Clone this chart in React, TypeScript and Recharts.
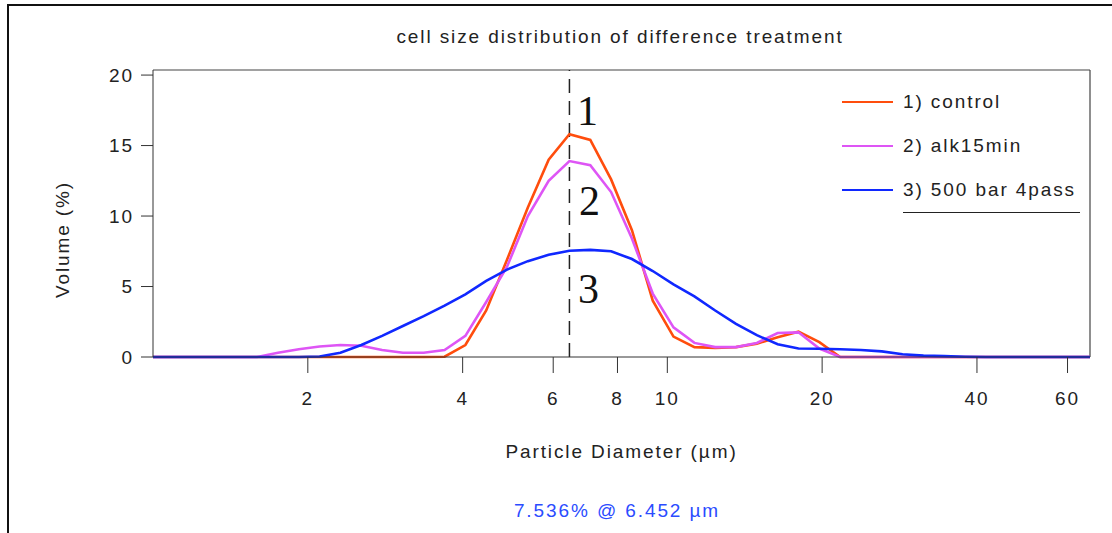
import { LineChart, Line, XAxis, YAxis, ReferenceLine, Legend } from 'recharts';

// channel centres (µm) of the particle sizer
const diameters = [
  1.0, 1.098, 1.205, 1.323, 1.452, 1.594, 1.75, 1.921, 2.108, 2.314,
  2.541, 2.789, 3.061, 3.36, 3.689, 4.049, 4.445, 4.879, 5.356, 5.879,
  6.452, 7.083, 7.775, 8.535, 9.369, 10.28, 11.29, 12.39, 13.6, 14.93,
  16.39, 17.99, 19.75, 21.68, 23.8, 26.12, 28.67, 31.48, 34.55, 37.93,
  41.63, 45.7, 50.17, 55.07, 60.45, 66.35,
];

// volume %
const control = [
  0, 0, 0, 0, 0, 0, 0, 0, 0, 0,
  0, 0, 0, 0, 0.02, 0.85, 3.3, 6.9, 10.6, 14.0,
  15.8, 15.4, 12.6, 9.0, 4.0, 1.45, 0.7, 0.65, 0.7, 0.95,
  1.4, 1.8, 1.05, 0, 0, 0, 0, 0, 0, 0,
  0, 0, 0, 0, 0, 0,
];

const alk15min = [
  0, 0, 0, 0, 0, 0, 0.3, 0.55, 0.75, 0.85,
  0.8, 0.5, 0.3, 0.3, 0.5, 1.5, 3.9, 6.4, 10.0, 12.5,
  13.9, 13.6, 11.7, 8.4, 4.5, 2.1, 1.0, 0.7, 0.7, 1.0,
  1.7, 1.75, 0.6, 0, 0, 0, 0, 0, 0, 0,
  0, 0, 0, 0, 0, 0,
];

const bar500 = [
  0, 0, 0, 0, 0, 0, 0, 0, 0.03, 0.3,
  0.85, 1.5, 2.2, 2.9, 3.65, 4.45, 5.4, 6.2, 6.8, 7.25,
  7.536, 7.6, 7.5, 6.95, 6.1, 5.15, 4.3, 3.3, 2.35, 1.55,
  0.9, 0.6, 0.58, 0.55, 0.5, 0.4, 0.2, 0.1, 0.06, 0.02,
  0, 0, 0, 0, 0, 0,
];

const xTicks = [2, 4, 6, 8, 10, 20, 40, 60];
const yTicks = [0, 5, 10, 15, 20];
const cursorIndex = 20;

const FONT = '"Liberation Sans", Arial, sans-serif';
const SIZE = 19;
const SPACING = 1.9;

const series = [
  { key: 'control', name: '1) control', color: '#ff4d0d' },
  { key: 'alk', name: '2) alk15min', color: '#de55f5' },
  { key: 'bar', name: '3) 500 bar 4pass', color: '#1028ff' },
];

const data = diameters.map((d, i) => ({
  d,
  control: control[i],
  alk: alk15min[i],
  bar: bar500[i],
}));

const xMax = diameters[diameters.length - 1];
const yMax = 20.36;

function LegendBox() {
  return (
    <div style={{ fontFamily: FONT, fontSize: SIZE, letterSpacing: SPACING, color: '#222' }}>
      {series.map((s) => (
        <div key={s.key} style={{ display: 'flex', alignItems: 'center', height: 44 }}>
          <span style={{ width: 51, borderTop: `2.5px solid ${s.color}`, marginRight: 10 }} />
          <span>{s.name}</span>
        </div>
      ))}
      <div style={{ marginLeft: 61, width: 177, borderTop: '1.5px solid #222' }} />
    </div>
  );
}

const tickStyle = { fontSize: SIZE, fill: '#222', fontFamily: FONT, letterSpacing: SPACING };

export default function App() {
  const readout = `${bar500[cursorIndex].toFixed(3)}% @ ${diameters[cursorIndex].toFixed(3)} µm`;

  return (
    <div style={{ position: 'absolute', left: 0, top: 0, width: 1112, height: 533, background: '#fff', overflow: 'hidden' }}>
      <div style={{ position: 'absolute', left: 7, top: 4, right: 0, bottom: 0, borderLeft: '2px solid #111', borderTop: '2px solid #111' }} />
      <div
        style={{
          position: 'absolute', left: 0, width: 1240, top: 26, textAlign: 'center',
          fontFamily: FONT, fontSize: SIZE, letterSpacing: SPACING, color: '#222',
        }}
      >
        cell size distribution of difference treatment
      </div>

      <LineChart width={1112} height={533} data={data} margin={{ top: 70, right: 22, left: 93, bottom: 146 }}>
        <XAxis
          dataKey="d"
          type="number"
          scale="log"
          domain={[1, xMax]}
          ticks={xTicks}
          interval={0}
          allowDataOverflow
          height={30}
          stroke="#333"
          tickSize={16}
          tickMargin={19}
          tick={tickStyle}
          label={(props: any) => {
            const vb = props.viewBox;
            return (
              <text
                x={vb.x + vb.width / 2}
                y={vb.y + vb.height + 64}
                textAnchor="middle"
                dominantBaseline="central"
                style={{ ...tickStyle }}
              >
                Particle Diameter (µm)
              </text>
            );
          }}
        />
        <YAxis
          type="number"
          domain={[0, yMax]}
          ticks={yTicks}
          interval={0}
          width={60}
          stroke="#333"
          tickSize={12}
          tickMargin={7}
          tick={tickStyle}
          label={(props: any) => {
            const vb = props.viewBox;
            const cx = vb.x - 31;
            const cy = vb.y + vb.height / 2 + 26;
            return (
              <text
                x={cx}
                y={cy}
                transform={`rotate(-90 ${cx} ${cy})`}
                textAnchor="middle"
                dominantBaseline="central"
                style={{ ...tickStyle }}
              >
                Volume (%)
              </text>
            );
          }}
        />
        <ReferenceLine y={yMax} stroke="#444" strokeWidth={1.2} />
        <ReferenceLine x={xMax} stroke="#444" strokeWidth={1.2} />
        <ReferenceLine
          x={diameters[cursorIndex]}
          stroke="#222"
          strokeWidth={1.5}
          strokeDasharray="14 8"
          label={(props: any) => {
            const vb = props.viewBox;
            const st = { fontFamily: '"Liberation Serif", "Times New Roman", serif', fontSize: 42, fill: '#111' };
            return (
              <g>
                <text x={vb.x + 18} y={vb.y + 55} textAnchor="middle" style={st}>1</text>
                <text x={vb.x + 20} y={vb.y + 145} textAnchor="middle" style={st}>2</text>
                <text x={vb.x + 19} y={vb.y + 233} textAnchor="middle" style={st}>3</text>
              </g>
            );
          }}
        />
        {series.map((s) => (
          <Line
            key={s.key}
            dataKey={s.key}
            name={s.name}
            type="linear"
            stroke={s.color}
            strokeWidth={2.6}
            dot={false}
            activeDot={false}
            isAnimationActive={false}
          />
        ))}
        <Legend
          layout="horizontal"
          verticalAlign="middle"
          align="center"
          content={() => <LegendBox />}
          wrapperStyle={{ position: 'absolute', top: 80, left: 842, width: 260, height: 140 }}
        />
      </LineChart>

      <div
        style={{
          position: 'absolute', left: 0, width: 1234, top: 500, textAlign: 'center',
          fontFamily: FONT, fontSize: SIZE, letterSpacing: SPACING, color: '#2b4cff',
        }}
      >
        {readout}
      </div>
    </div>
  );
}
